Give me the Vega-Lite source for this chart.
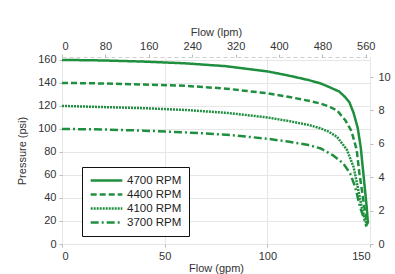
{
  "$schema": "https://vega.github.io/schema/vega-lite/v6.json",
  "autosize": {"type": "none"},
  "padding": {"left": 62, "top": 57, "right": 25, "bottom": 30},
  "width": 308,
  "height": 187,
  "background": "white",
  "config": {
    "font": "Liberation Sans",
    "view": {"stroke": "#cfcfcf", "strokeDash": [4, 3], "strokeWidth": 1},
    "axis": {
      "labelFont": "Liberation Sans", "labelFontSize": 11, "labelColor": "#333333",
      "titleFont": "Liberation Sans", "titleFontSize": 11, "titleFontWeight": "normal", "titleColor": "#333333",
      "domain": false, "tickColor": "#bbbbbb", "tickSize": 3, "gridColor": "#e6e6e6"
    }
  },
  "data": {"values": [
    {"rpm": "4700 RPM", "gpm": 0, "psi": 160},
    {"rpm": "4700 RPM", "gpm": 20, "psi": 159.5},
    {"rpm": "4700 RPM", "gpm": 40, "psi": 158.5},
    {"rpm": "4700 RPM", "gpm": 60, "psi": 157},
    {"rpm": "4700 RPM", "gpm": 80, "psi": 154.5},
    {"rpm": "4700 RPM", "gpm": 100, "psi": 150},
    {"rpm": "4700 RPM", "gpm": 110, "psi": 146.5},
    {"rpm": "4700 RPM", "gpm": 120, "psi": 142.5},
    {"rpm": "4700 RPM", "gpm": 126, "psi": 139.5},
    {"rpm": "4700 RPM", "gpm": 130, "psi": 136.5},
    {"rpm": "4700 RPM", "gpm": 135, "psi": 132.5},
    {"rpm": "4700 RPM", "gpm": 138, "psi": 127.5},
    {"rpm": "4700 RPM", "gpm": 140, "psi": 123},
    {"rpm": "4700 RPM", "gpm": 142, "psi": 114},
    {"rpm": "4700 RPM", "gpm": 144, "psi": 101},
    {"rpm": "4700 RPM", "gpm": 145.5, "psi": 84},
    {"rpm": "4700 RPM", "gpm": 146.5, "psi": 66},
    {"rpm": "4700 RPM", "gpm": 147.5, "psi": 48},
    {"rpm": "4700 RPM", "gpm": 148.4, "psi": 32},
    {"rpm": "4700 RPM", "gpm": 149, "psi": 18},
    {"rpm": "4400 RPM", "gpm": 0, "psi": 140},
    {"rpm": "4400 RPM", "gpm": 20, "psi": 139.5},
    {"rpm": "4400 RPM", "gpm": 40, "psi": 138.5},
    {"rpm": "4400 RPM", "gpm": 60, "psi": 137.5},
    {"rpm": "4400 RPM", "gpm": 80, "psi": 135},
    {"rpm": "4400 RPM", "gpm": 100, "psi": 131},
    {"rpm": "4400 RPM", "gpm": 110, "psi": 128},
    {"rpm": "4400 RPM", "gpm": 120, "psi": 124.5},
    {"rpm": "4400 RPM", "gpm": 126, "psi": 122},
    {"rpm": "4400 RPM", "gpm": 130, "psi": 119.5},
    {"rpm": "4400 RPM", "gpm": 134, "psi": 116},
    {"rpm": "4400 RPM", "gpm": 138, "psi": 107.5},
    {"rpm": "4400 RPM", "gpm": 141, "psi": 98},
    {"rpm": "4400 RPM", "gpm": 143.5, "psi": 82},
    {"rpm": "4400 RPM", "gpm": 144.8, "psi": 62},
    {"rpm": "4400 RPM", "gpm": 146.2, "psi": 45},
    {"rpm": "4400 RPM", "gpm": 147.6, "psi": 28},
    {"rpm": "4400 RPM", "gpm": 148.8, "psi": 17},
    {"rpm": "4100 RPM", "gpm": 0, "psi": 120},
    {"rpm": "4100 RPM", "gpm": 20, "psi": 119},
    {"rpm": "4100 RPM", "gpm": 40, "psi": 118},
    {"rpm": "4100 RPM", "gpm": 60, "psi": 116.5},
    {"rpm": "4100 RPM", "gpm": 80, "psi": 114},
    {"rpm": "4100 RPM", "gpm": 100, "psi": 110},
    {"rpm": "4100 RPM", "gpm": 110, "psi": 107},
    {"rpm": "4100 RPM", "gpm": 120, "psi": 103.5},
    {"rpm": "4100 RPM", "gpm": 126, "psi": 100.5},
    {"rpm": "4100 RPM", "gpm": 130, "psi": 97.5},
    {"rpm": "4100 RPM", "gpm": 134, "psi": 93},
    {"rpm": "4100 RPM", "gpm": 138.7, "psi": 82},
    {"rpm": "4100 RPM", "gpm": 142, "psi": 67},
    {"rpm": "4100 RPM", "gpm": 144.3, "psi": 47},
    {"rpm": "4100 RPM", "gpm": 146, "psi": 32},
    {"rpm": "4100 RPM", "gpm": 147.5, "psi": 22},
    {"rpm": "4100 RPM", "gpm": 148.5, "psi": 16},
    {"rpm": "3700 RPM", "gpm": 0, "psi": 100},
    {"rpm": "3700 RPM", "gpm": 20, "psi": 99.5},
    {"rpm": "3700 RPM", "gpm": 40, "psi": 98.5},
    {"rpm": "3700 RPM", "gpm": 60, "psi": 97},
    {"rpm": "3700 RPM", "gpm": 80, "psi": 95},
    {"rpm": "3700 RPM", "gpm": 100, "psi": 91.5},
    {"rpm": "3700 RPM", "gpm": 110, "psi": 89},
    {"rpm": "3700 RPM", "gpm": 120, "psi": 86},
    {"rpm": "3700 RPM", "gpm": 126, "psi": 83},
    {"rpm": "3700 RPM", "gpm": 132, "psi": 77},
    {"rpm": "3700 RPM", "gpm": 137, "psi": 70},
    {"rpm": "3700 RPM", "gpm": 140.3, "psi": 61.5},
    {"rpm": "3700 RPM", "gpm": 142.7, "psi": 50},
    {"rpm": "3700 RPM", "gpm": 145.2, "psi": 32},
    {"rpm": "3700 RPM", "gpm": 147.6, "psi": 19},
    {"rpm": "3700 RPM", "gpm": 148.3, "psi": 15}
  ]},
  "layer": [
    {
      "mark": {"type": "line", "color": "#1f8f3f", "strokeWidth": 2.5},
      "encoding": {
        "x": {"field": "gpm", "type": "quantitative", "scale": {"domain": [0, 150], "nice": false},
              "axis": {"orient": "bottom", "title": "Flow (gpm)", "values": [0, 50, 100, 150], "grid": true, "labelPadding": 3, "titlePadding": 1}},
        "y": {"field": "psi", "type": "quantitative", "scale": {"domain": [0, 162.5], "nice": false},
              "axis": {"orient": "left", "title": "Pressure (psi)", "values": [0, 20, 40, 60, 80, 100, 120, 140, 160], "grid": true, "labelPadding": 3, "titlePadding": 10}},
        "strokeDash": {"field": "rpm", "type": "nominal",
          "scale": {"domain": ["4700 RPM", "4400 RPM", "4100 RPM", "3700 RPM"], "range": [[1, 0], [6, 3], [2, 1], [8, 3, 2, 3]]},
          "legend": {"title": null, "orient": "none", "legendX": 20, "legendY": 110,
            "symbolType": "stroke", "symbolSize": 1000, "symbolStrokeWidth": 2.5, "symbolStrokeColor": "#1f8f3f",
            "clipHeight": 13,
            "labelFont": "Liberation Sans", "labelFontSize": 11.5, "labelColor": "#222222", "labelOffset": 3,
            "rowPadding": 1, "padding": 7, "strokeColor": "#111111", "fillColor": "white", "cornerRadius": 0}},
        "order": {"field": "gpm", "type": "quantitative"}
      }
    },
    {
      "mark": {"type": "point", "opacity": 0},
      "encoding": {
        "x": {"field": "gpm", "type": "quantitative",
              "axis": {"orient": "top", "title": "Flow (lpm)", "values": [0, 21.134, 42.268, 63.402, 84.535, 105.669, 126.803, 147.937],
                       "labelExpr": "format(datum.value * 3.78541, '.0f')", "grid": false, "labelPadding": 3, "titlePadding": 3}},
        "y": {"field": "psi", "type": "quantitative",
              "axis": {"orient": "right", "title": null, "values": [0, 29.0076, 58.0151, 87.0227, 116.0302, 145.0378],
                       "labelExpr": "format(datum.value / 14.5038, '.0f')", "grid": false, "labelPadding": 5}}
      }
    }
  ],
  "resolve": {"axis": {"x": "independent", "y": "independent"}}
}
